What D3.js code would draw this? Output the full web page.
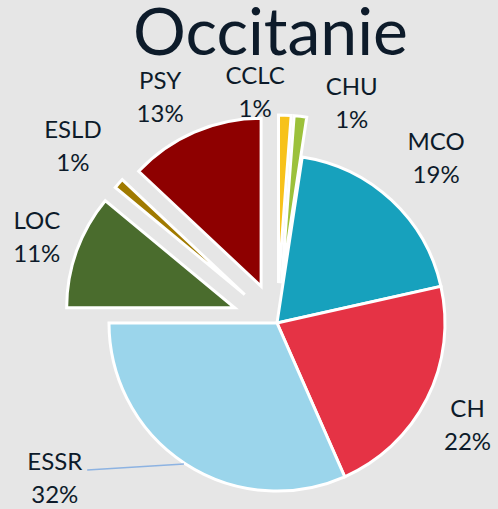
<!DOCTYPE html>
<html><head><meta charset="utf-8">
<script src="https://cdn.jsdelivr.net/npm/d3@7"></script>
<style>html,body{margin:0;padding:0;background:#e6e6e6;} svg{display:block;}</style>
</head><body>
<script>
// ---- data ----
const title = "Occitanie";
const categories = ["CCLC", "CHU", "MCO", "CH", "ESSR", "LOC", "ESLD", "PSY"];
const values = [1.2, 1.2, 19.1, 21.9, 31.6, 11.0, 1.0, 13.0];
const percentLabels = ["1%", "1%", "19%", "22%", "32%", "11%", "1%", "13%"];

// ---- style / layout ----
const colors = ["#f7c21b", "#9cc13b", "#17a1bd", "#e53345", "#9bd5eb", "#4a6c2d", "#a07a00", "#8e0000"];
const explode = [40, 40, 0, 0, 0, 45, 43, 40];
const labelPolar = [[354.6, 232], [18.8, 232], [44, 229], [118.1, 216], [235.1, 271], [289.6, 255], [310.9, 270], [332.6, 254]];

const W = 498, H = 509, cx = 277, cy = 323, R = 168;
const textColor = "#0d1b2a";
const font = "Lato, 'Open Sans', sans-serif";

const svg = d3.select("body").append("svg").attr("width", W).attr("height", H);
svg.append("rect").attr("width", W).attr("height", H).attr("fill", "#e6e6e6");

// title
const t = svg.append("text").attr("x", 270.5).attr("y", 55)
  .attr("text-anchor", "middle").attr("font-family", font)
  .attr("font-size", 62).attr("fill", textColor).text(title);
const tw = t.node().getComputedTextLength();
t.attr("font-size", 62 * 275 / tw);

const data = categories.map((c, i) => ({ cat: c, value: values[i], pct: percentLabels[i], i }));
const pie = d3.pie().sort(null).value(d => d.value).startAngle(0).endAngle(2 * Math.PI);
const arcs = pie(data);
const arc = d3.arc().innerRadius(0).outerRadius(R);

const g = svg.append("g").attr("transform", `translate(${cx},${cy})`);
g.selectAll("path").data(arcs).join("path")
  .attr("d", arc)
  .attr("transform", d => {
    const a = (d.startAngle + d.endAngle) / 2;
    const [x, y] = d3.pointRadial(a, explode[d.data.i]);
    return `translate(${x},${y})`;
  })
  .attr("fill", d => colors[d.data.i])
  .attr("stroke", "#ffffff").attr("stroke-width", 3);

// labels
const lg = g.selectAll("g.lbl").data(arcs).join("g").attr("class", "lbl")
  .attr("transform", d => {
    const [a, r] = labelPolar[d.data.i];
    const [x, y] = d3.pointRadial(a * Math.PI / 180, r);
    return `translate(${x},${y})`;
  });
lg.append("text").attr("class", "name").attr("text-anchor", "middle").attr("y", -8)
  .attr("font-family", font).attr("font-size", 24).attr("fill", textColor)
  .text(d => d.data.cat);
lg.append("text").attr("text-anchor", "middle").attr("y", 25)
  .attr("font-family", font).attr("font-size", 24).attr("fill", textColor)
  .text(d => d.data.pct);

// leader line for ESSR
const essrLbl = lg.filter(d => d.data.cat === "ESSR");
const bb = essrLbl.select("text.name").node().getBBox();
const [lx, ly] = d3.pointRadial(labelPolar[4][0] * Math.PI / 180, labelPolar[4][1]);
const end = d3.pointRadial(213.4 * Math.PI / 180, R + 1);
g.append("line")
  .attr("x1", lx + bb.x + bb.width + 5).attr("y1", ly - 8)
  .attr("x2", end[0]).attr("y2", end[1])
  .attr("stroke", "#8db3e2").attr("stroke-width", 1.5);
</script>
</body></html>
